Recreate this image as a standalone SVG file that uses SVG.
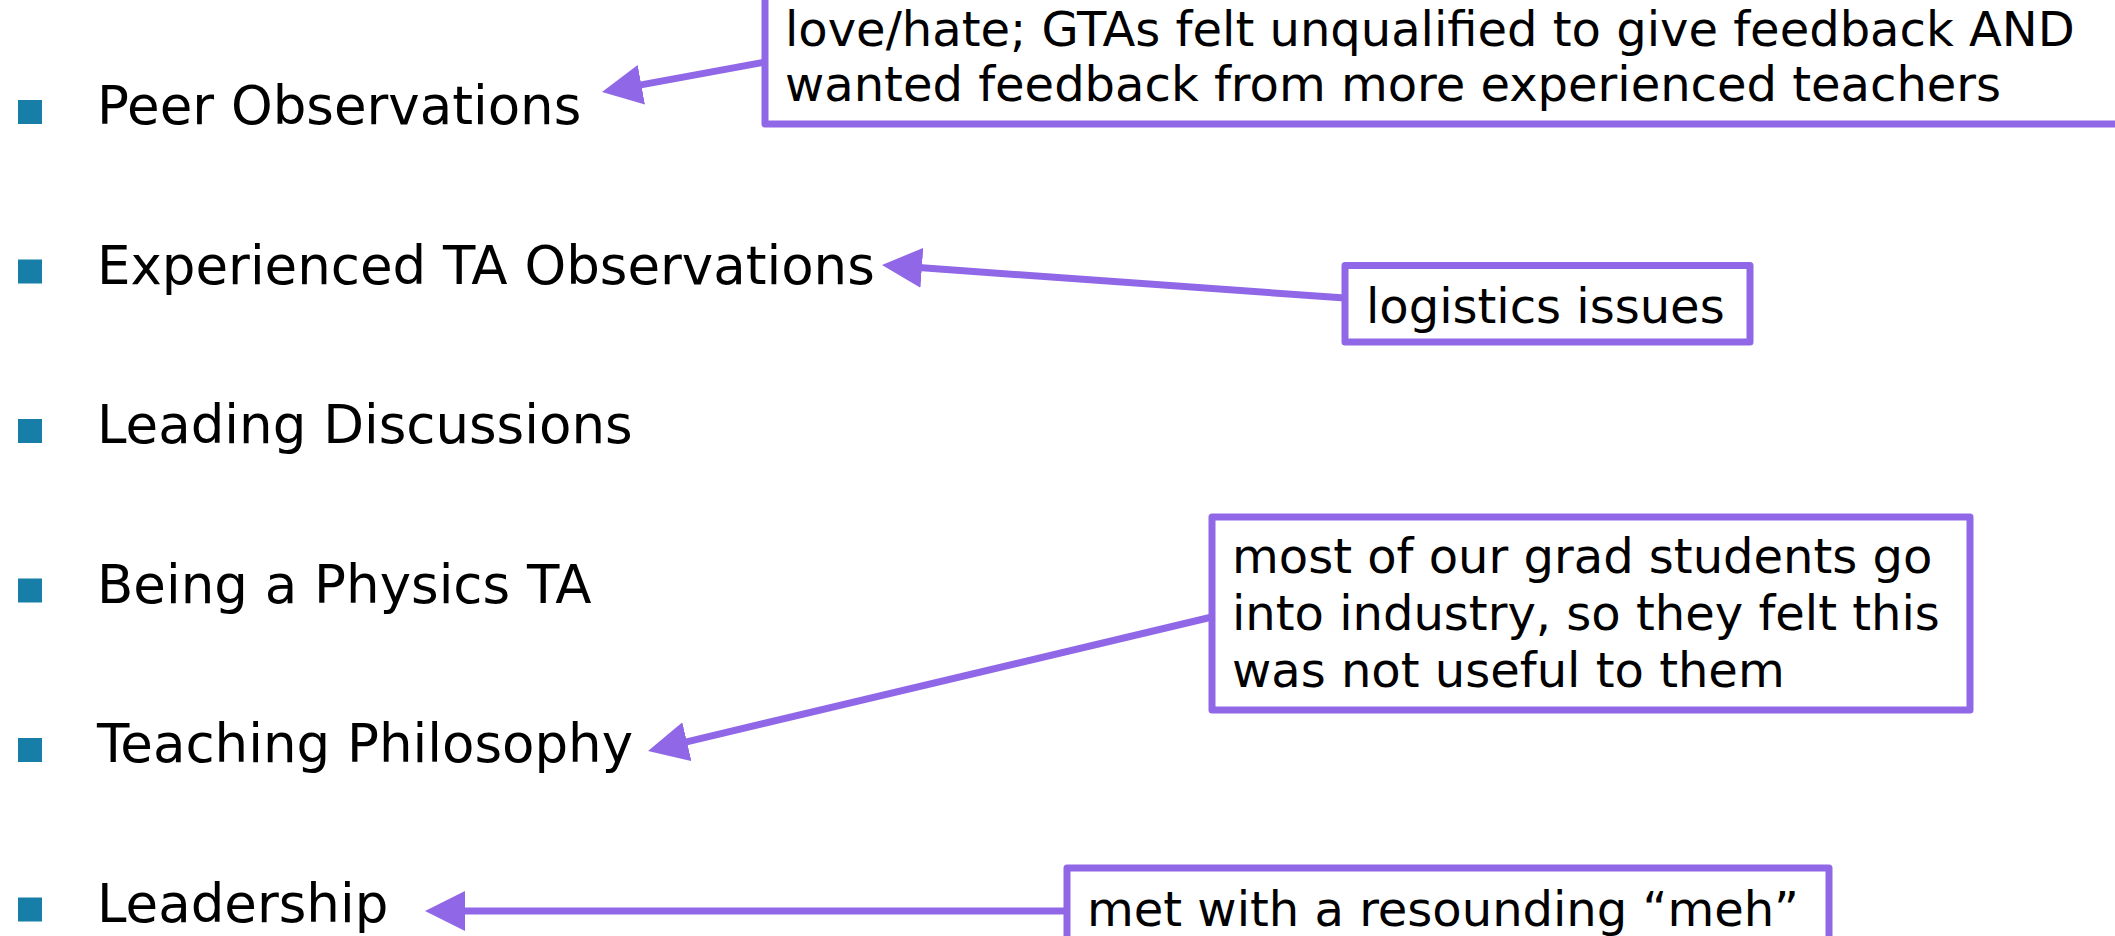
<svg xmlns="http://www.w3.org/2000/svg" width="2115" height="936" viewBox="0 0 2115 936">
  <style>
    .item { font-family: "DejaVu Sans", Verdana, sans-serif; font-size: 53px; fill: #000; }
    .note { font-family: "DejaVu Sans", Verdana, sans-serif; font-size: 48px; fill: #000; }
    .bullet { fill: #177ea8; }
    .box { fill: #fff; stroke: #9067e6; stroke-width: 7; stroke-linejoin: round; }
    .conn { stroke: #9067e6; stroke-width: 7; fill: none; marker-end: url(#ah); }
  </style>
  <defs>
    <marker id="ah" viewBox="0 0 40 40" refX="10" refY="20" markerWidth="40" markerHeight="40" markerUnits="userSpaceOnUse" orient="auto">
      <path d="M0,0 L40,20 L0,40 z" fill="#9067e6"/>
    </marker>
  </defs>
  <rect width="2115" height="936" fill="#fff"/>

  <g id="item-peer">
    <rect class="bullet" x="18" y="100" width="24" height="24"/>
    <text class="item" x="97" y="124">Peer Observations</text>
  </g>
  <g id="item-experienced">
    <rect class="bullet" x="18" y="259.5" width="24" height="24"/>
    <text class="item" x="97" y="283.5">Experienced TA Observations</text>
  </g>
  <g id="item-leading">
    <rect class="bullet" x="18" y="419" width="24" height="24"/>
    <text class="item" x="97" y="443">Leading Discussions</text>
  </g>
  <g id="item-physics">
    <rect class="bullet" x="18" y="578.5" width="24" height="24"/>
    <text class="item" x="97" y="602.5">Being a Physics TA</text>
  </g>
  <g id="item-philosophy">
    <rect class="bullet" x="18" y="738" width="24" height="24"/>
    <text class="item" x="97" y="762">Teaching Philosophy</text>
  </g>
  <g id="item-leadership">
    <rect class="bullet" x="18" y="897.5" width="24" height="24"/>
    <text class="item" x="97" y="921.5">Leadership</text>
  </g>

  <g id="connectors">
    <line class="conn" x1="765" y1="62" x2="631.5" y2="86.6"/>
    <line class="conn" x1="1345" y1="298" x2="911.9" y2="267.1"/>
    <line class="conn" x1="1212" y1="617" x2="677.2" y2="744.1"/>
    <line class="conn" x1="1067" y1="911" x2="455" y2="911"/>
  </g>

  <g id="note-peer">
    <rect class="box" x="765" y="-20" width="1400" height="144"/>
    <text class="note" x="785" y="46">love/hate; GTAs felt unqualified to give feedback AND</text>
    <text class="note" x="785" y="101">wanted feedback from more experienced teachers</text>
  </g>
  <g id="note-logistics">
    <rect class="box" x="1345" y="265.5" width="405" height="76.5"/>
    <text class="note" x="1366" y="323">logistics issues</text>
  </g>
  <g id="note-philosophy">
    <rect class="box" x="1212" y="517" width="758" height="193"/>
    <text class="note" x="1232" y="573">most of our grad students go</text>
    <text class="note" x="1232" y="630">into industry, so they felt this</text>
    <text class="note" x="1232" y="687">was not useful to them</text>
  </g>
  <g id="note-leadership">
    <rect class="box" x="1067" y="868" width="762" height="100"/>
    <text class="note" x="1087" y="926">met with a resounding “meh”</text>
  </g>
</svg>
